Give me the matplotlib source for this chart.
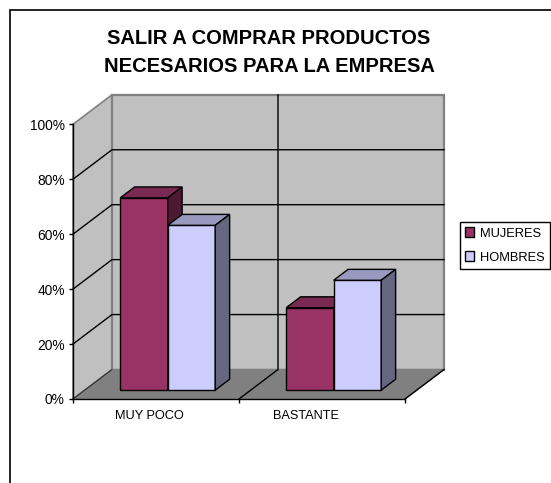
import numpy as np
import matplotlib
matplotlib.use('Agg')
import matplotlib.pyplot as plt
from matplotlib.patches import Polygon, Patch, Rectangle

plt.rcParams['font.family'] = ['Liberation Sans', 'DejaVu Sans']

categories = ['MUY POCO', 'BASTANTE']
mujeres = [70, 30]
hombres = [60, 40]
y_ticks = [0, 20, 40, 60, 80, 100]
y_labels = ['0%', '20%', '40%', '60%', '80%', '100%']
title = 'SALIR A COMPRAR PRODUCTOS\nNECESARIOS PARA LA EMPRESA'

W, H = 551, 483
fig = plt.figure(figsize=(W/100, H/100), dpi=100)
ax = fig.add_axes([73/W, 1-399/H, 332/W, 274.7/H])
ax.set_xlim(0, 2)
ax.set_ylim(0, 100)

# oblique depth of the box, in data units
DX = 39/166
DY = 29.5/2.747

def pt(x, y, d):
    return (x + d*DX, y + d*DY)

def poly(points, **kw):
    ax.add_patch(Polygon(points, closed=True, clip_on=False, **kw))

wall = '#c0c0c0'
# side wall, back wall, floor
poly([pt(0, 0, 0), pt(0, 0, 1), pt(0, 100, 1), pt(0, 100, 0)], fc=wall, ec='#808080', lw=1.2, zorder=1)
poly([pt(0, 0, 1), pt(2, 0, 1), pt(2, 100, 1), pt(0, 100, 1)], fc=wall, ec='#808080', lw=1.6, zorder=1)
poly([pt(0, 0, 0), pt(2, 0, 0), pt(2, 0, 1), pt(0, 0, 1)], fc='#808080', ec='#808080', lw=1, zorder=1)
ax.plot(*zip(pt(2, 0, 0), pt(2, 0, 1)), color='black', lw=1, clip_on=False, zorder=2)
ax.plot(*zip(pt(0, 0, 0), pt(0, 0, 1)), color='#303030', lw=0.8, clip_on=False, zorder=2)

# gridlines
for t in y_ticks[1:-1]:
    ax.plot(*zip(pt(0, t, 0), pt(0, t, 1), pt(2, t, 1)), color='black', lw=1, clip_on=False, zorder=2)
ax.plot(*zip(pt(1, 0, 0), pt(1, 0, 1), pt(1, 100, 1)), color='black', lw=1, clip_on=False, zorder=2)

# bars
bw = 47.5/166
d0, d1 = 0.3, 0.67

def bar3d(x, h, front, top, side):
    ax.bar(x + d0*DX, h, bw, bottom=d0*DY, align='edge', color=front, edgecolor='black', lw=1, zorder=3)
    poly([pt(x, h, d0), pt(x+bw, h, d0), pt(x+bw, h, d1), pt(x, h, d1)], fc=top, ec='black', lw=1, zorder=3)
    poly([pt(x+bw, 0, d0), pt(x+bw, 0, d1), pt(x+bw, h, d1), pt(x+bw, h, d0)], fc=side, ec='black', lw=1, zorder=3)

for i in range(len(categories)):
    c = i + 0.5
    bar3d(c - bw, mujeres[i], '#993366', '#7a2952', '#4d1a33')
    bar3d(c, hombres[i], '#ccccff', '#9999c0', '#666680')

# front axis lines and ticks
for s in ['top', 'right']:
    ax.spines[s].set_visible(False)
ax.patch.set_visible(False)
ax.spines['left'].set_linewidth(1)
ax.spines['bottom'].set_linewidth(1)
ax.set_yticks(y_ticks, y_labels)
ax.set_xticks([0, 1, 2])
ax.set_xticklabels([])
ax.tick_params(axis='both', length=3, width=1, labelsize=9.9, pad=3, colors='black')
label_shift = [-5, -11.5]
for i, name in enumerate(categories):
    ax.annotate(name, (i + 0.5, 0), xytext=(label_shift[i], -8), textcoords='offset points',
                ha='center', va='top', fontsize=9.2)

fig.text(269/W, 1-52.5/H, title, ha='center', va='center', fontsize=14.5, fontweight='bold', linespacing=1.55)

# legend
handles = [Patch(fc='#993366', ec='black', lw=1), Patch(fc='#ccccff', ec='black', lw=1)]
fig.legend(handles, ['MUJERES', 'HOMBRES'], loc='upper left', bbox_to_anchor=(460/W, 1-222/H),
           borderaxespad=0, fancybox=False, framealpha=1, edgecolor='black', fontsize=9.3,
           handlelength=0.65, handleheight=0.8, handletextpad=0.45, labelspacing=0.9, borderpad=0.42)

# chart border
fig.add_artist(Rectangle((10/W, -0.01), 1, 1.01-10/H, fill=False, ec='black', lw=1.2, transform=fig.transFigure))

fig.savefig('out.png', dpi=100)
